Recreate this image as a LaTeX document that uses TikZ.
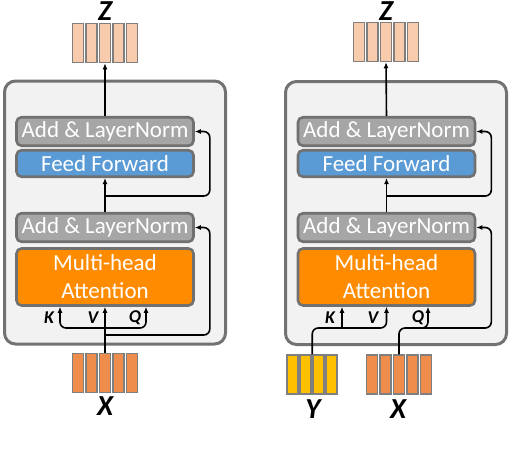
\documentclass[tikz,border=0pt]{standalone}
\usepackage{fontspec}
\setmainfont{Carlito}
\usetikzlibrary{positioning,arrows.meta,calc}
\definecolor{panelfill}{HTML}{F2F2F2}
\definecolor{panelline}{HTML}{727272}
\definecolor{boxline}{HTML}{707070}
\definecolor{lngray}{HTML}{A6A6A6}
\definecolor{ffblue}{HTML}{5B9BD5}
\definecolor{attorange}{HTML}{FF8C00}
\definecolor{tokline}{HTML}{7F7F7F}
\definecolor{zpeach}{HTML}{F8CBAD}
\definecolor{xorange}{HTML}{EE8D4C}
\definecolor{ygold}{HTML}{FFC000}

\begin{document}
\begin{tikzpicture}[
  x=1pt, y=-1pt,
  font=\fontsize{23}{28}\selectfont,
  >={Latex[length=6pt,width=5pt]},
  panel/.style={draw=panelline, line width=3pt, rounded corners=11pt, fill=panelfill,
                minimum width=221pt, minimum height=263pt, inner sep=0pt},
  lnbox/.style={draw=boxline, line width=2.6pt, rounded corners=5pt, fill=lngray, text=white,
                minimum width=177pt, minimum height=28.5pt, inner sep=0pt},
  ffbox/.style={lnbox, fill=ffblue, minimum height=26.5pt},
  attbox/.style={lnbox, fill=attorange, minimum height=57pt, align=center},
  tok/.style={draw=tokline, line width=1.5pt, minimum width=11pt, minimum height=39pt, inner sep=0pt},
  ztok/.style={tok, fill=zpeach},
  xtok/.style={tok, fill=xorange},
  ytok/.style={tok, fill=ygold},
  seq/.style={font=\fontsize{29}{29}\selectfont\bfseries\itshape},
  qkv/.style={font=\fontsize{18}{18}\selectfont\bfseries\itshape},
  flow/.style={->, line width=1.6pt, rounded corners=6pt},
]
\useasboundingbox (0,0) rectangle (512,450);

% ---- panels ----
\node[panel] (lpanel) at (115,212.5) {};
\node[panel] (rpanel) at (396,213) {};

% ---- left block (self-attention) ----
\node[lnbox]   (lln2) at (105,131.5) {Add \& LayerNorm};
\node[ffbox]   (lff)  at (105,163.5) {Feed Forward};
\node[lnbox]   (lln1) at (105,227.5) {Add \& LayerNorm};
\node[attbox]  (latt) at (105,277)   {Multi-head\\Attention};

% ---- right block (guided attention) ----
\node[lnbox]   (rln2) at (386.5,131.5) {Add \& LayerNorm};
\node[ffbox]   (rff)  at (386.5,163.5) {Feed Forward};
\node[lnbox]   (rln1) at (386.5,227.5) {Add \& LayerNorm};
\node[attbox]  (ratt) at (386.5,277)   {Multi-head\\Attention};

% ---- token sequences ----
\foreach \i in {1,...,5}{
  \node[ztok] (lz\i) at ({105+(\i-3)*13.5},43) {};
  \node[xtok] (lx\i) at ({105+(\i-3)*13.5},373) {};
  \node[ztok] (rz\i) at ({386+(\i-3)*13.5},42) {};
  \node[xtok] (rx\i) at ({399+(\i-3)*13.5},374.5) {};
}
\foreach \i in {1,...,4}
  \node[ytok] (ry\i) at ({312+(\i-2.5)*13},374.5) {};

\node[seq] (lzl) at (105,11)  {Z};
\node[seq] (lxl) at (105,406) {X};
\node[seq] (rzl) at (386,11)  {Z};
\node[seq] (ryl) at (313,409) {Y};
\node[seq] (rxl) at (398,409) {X};

% ---- K / V / Q labels ----
\node[qkv] at (49,318)  {K};
\node[qkv] at (93,318)  {V};
\node[qkv] at (135,318) {Q};
\node[qkv] at (330,318) {K};
\node[qkv] at (373,318) {V};
\node[qkv] at (418,318) {Q};

% ---- left flows ----
\coordinate (lsk2) at (105,196);
\coordinate (lsk1) at (105,335);
\coordinate (lkq)  at (105,328);
\draw[flow] (lln2.north) -- (lz3.south);
\draw[flow] (lln1.north) -- (lff.south);
\draw[flow] (lsk2) -| ([xshift=15pt]lln2.east) -- (lln2.east);
\draw[flow] (lx3.north) -- (latt.south);
\draw[flow] (lsk1) -| ([xshift=15pt]lln1.east) -- (lln1.east);
\draw[flow,<->] ([xshift=-45pt]latt.south) |- (lkq) -| ([xshift=41pt]latt.south);

% ---- right flows ----
\coordinate (rsk2) at (386.5,196);
\coordinate (rkv)  at (350,328);
\coordinate (rk)   at (342,328);
\coordinate (rxq)  at (450,328);
\coordinate (rq)   at (412,328);
\draw[flow] (rln2.north) -- (rz3.south);
\draw[flow] (rln1.north) -- (rff.south);
\draw[flow] (rsk2) -| ([xshift=15pt]rln2.east) -- (rln2.east);
\draw[flow] (ry3.north west) |- (rkv) -| (ratt.south);
\draw[flow] (rk) -- (rk |- ratt.south);
\draw[flow] (rx3.north) |- (rxq) -| ([xshift=15pt]rln1.east) -- (rln1.east);
\draw[flow] (rq) -| ([xshift=41.5pt]ratt.south);
\end{tikzpicture}
\end{document}
